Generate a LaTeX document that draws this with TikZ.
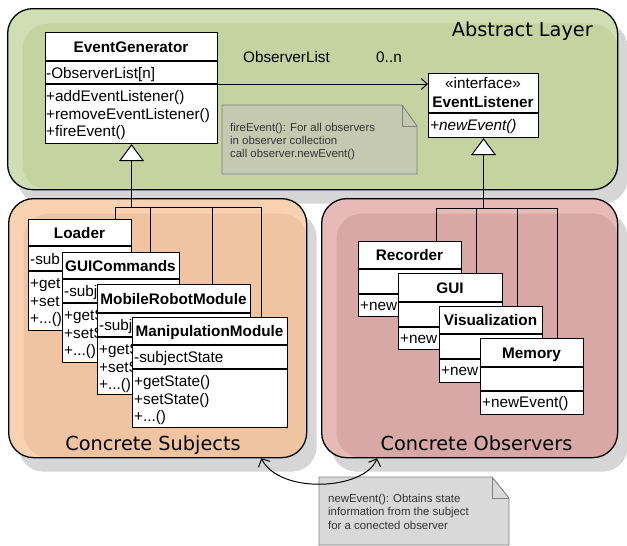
\documentclass[tikz,border=0pt]{standalone}
\usepackage{fontspec}
\setmainfont{Liberation Sans}
\newfontfamily\dejavu{DejaVu Sans}
\usetikzlibrary{arrows.meta,shadows}
\definecolor{absout}{RGB}{208,222,180}
\definecolor{absin}{RGB}{196,211,160}
\definecolor{subout}{RGB}{248,210,178}
\definecolor{subin}{RGB}{240,196,160}
\definecolor{obsout}{RGB}{230,186,183}
\definecolor{obsin}{RGB}{215,168,165}
\definecolor{shgray}{RGB}{214,214,214}
\definecolor{noteA}{RGB}{198,201,178}
\definecolor{noteB}{RGB}{217,217,217}
\definecolor{noteline}{RGB}{128,128,128}
\definecolor{notetext}{RGB}{51,51,51}
% class box: name, x, y, w, h, sep1 y, sep2 y, title
\newcommand\ucls[8]{%
  \node[classbox, minimum width=#4, minimum height=#5] (#1) at (#2,#3) {};
  \draw[sepline] (#2,#6) -- (#2+#4,#6);
  \draw[sepline] (#2,#7) -- (#2+#4,#7);
  \node[ctitle, anchor=base] (#1-t) at (#2+#4/2,#3/2+#6/2+5.5) {#8};
}
\newcommand\umem[4]{\node[ctext] (#1) at (#2,#3) {#4};}
\newcommand\unote[4]{\node[ntext] (#1) at (#2,#3) {#4};}
\begin{document}
\begin{tikzpicture}[x=1pt,y=-1pt,
  layer/.style n args={2}{draw=black, line width=1.3pt, rounded corners=25pt,
    anchor=north west, inner sep=0, fill=#1,
    drop shadow={shadow xshift=10pt, shadow yshift=-14pt, fill=shgray, draw=none, opacity=1},
    path picture={\fill[#2, rounded corners=25pt]
      ([xshift=15pt,yshift=-15pt]path picture bounding box.north west)
      rectangle (path picture bounding box.south east);}},
  classbox/.style={draw=black, fill=white, line width=1.1pt, inner sep=0, anchor=north west},
  sepline/.style={black, line width=1.1pt},
  ctitle/.style={font=\bfseries\fontsize{15.3}{18}\selectfont, inner sep=0},
  ctext/.style={font=\fontsize{15.3}{18}\selectfont, inner sep=0, anchor=base west},
  lbl/.style={font=\dejavu\fontsize{19.3}{22}\selectfont, inner sep=0, anchor=base},
  ntext/.style={font=\fontsize{11.4}{13.5}\selectfont, text=notetext, inner sep=0, anchor=base west},
  notebox/.style={draw=noteline, line width=0.9pt},
  conn/.style={black, line width=1pt},
  gen/.style={black, line width=1pt, -{Triangle[open, fill=white, length=17pt, width=25pt]}},
  assoc/.style={black, line width=1pt, -{Straight Barb[length=6pt, width=11pt]}},
  arcst/.style={black, line width=1pt, {Straight Barb[length=6pt, width=13pt]}-{Straight Barb[length=6pt, width=13pt]}}
]
\useasboundingbox (0,0) rectangle (627,546);
\fill[white] (0,0) rectangle (627,546);

% ---------- layers ----------
\node[layer={absout}{absin}, minimum width=610, minimum height=181] (abs) at (7,8) {};
\node[layer={subout}{subin}, minimum width=298, minimum height=259] (subj) at (8,198) {};
\node[layer={obsout}{obsin}, minimum width=296, minimum height=259] (obs) at (321,198) {};
\node[lbl, anchor=base east] (absl) at (593,36.7) {Abstract Layer};
\node[lbl] (subl) at (153,450.5) {Concrete Subjects};
\node[lbl] (obsl) at (476.5,450.5) {Concrete Observers};

% ---------- abstract layer ----------
\ucls{eg}{45}{32}{172}{111}{61}{84}{EventGenerator}
\umem{eg-a}{46}{78}{-ObserverList[n]}
\umem{eg-m1}{46}{101.5}{+addEventListener()}
\umem{eg-m2}{46}{119}{+removeEventListener()}
\umem{eg-m3}{46}{136.5}{+fireEvent()}

\node[classbox, minimum width=110, minimum height=64] (el) at (428,73) {};
\draw[sepline] (428,113) -- (538,113);
\node[ctext, anchor=base] (el-s) at (483,88.5) {«interface»};
\node[ctitle, anchor=base] (el-t) at (483,107) {EventListener};
\node[ctext, font=\itshape\fontsize{15.3}{18}\selectfont] (el-m) at (430,130.5) {+newEvent()};

\node[inner sep=0, font=\fontsize{15.3}{18}\selectfont, anchor=base] (ol) at (286.5,62.5) {ObserverList};
\node[inner sep=0, font=\fontsize{15.3}{18}\selectfont, anchor=base] (mult) at (389,62.5) {0..n};
\draw[assoc] ([yshift=-52pt]eg.north east) -- ([yshift=-52pt]eg.north east -| el.west);

\filldraw[notebox, fill=noteA] (222,105) -- (402,105) -- (417,126) -- (417,174) -- (222,174) -- cycle;
\draw[notebox] (402,105) -- (402,126) -- (417,126);
\unote{n1a}{230}{131.5}{fireEvent(): For all observers}
\unote{n1b}{230}{144.5}{in observer collection}
\unote{n1c}{230}{157.5}{call observer.newEvent()}

% ---------- concrete subjects ----------
\ucls{lo}{28}{219}{103}{111}{246}{271}{Loader}
\umem{lo-a}{30}{264}{-sub}
\umem{lo-m1}{30}{288.5}{+get}
\umem{lo-m2}{30}{306}{+set}
\umem{lo-m3}{30}{323.5}{+...()}
\ucls{gc}{62}{252}{117}{110}{279}{303}{GUICommands}
\umem{gc-a}{64}{296.5}{-subj}
\umem{gc-m1}{64}{320.5}{+getS}
\umem{gc-m2}{64}{338}{+setS}
\umem{gc-m3}{64}{355.5}{+...()}
\ucls{mr}{97}{284}{153}{110}{313}{337}{MobileRobotModule}
\umem{mr-a}{99}{330.5}{-subj}
\umem{mr-m1}{99}{354.5}{+getS}
\umem{mr-m2}{99}{372}{+setS}
\umem{mr-m3}{99}{389.5}{+...()}
\ucls{mm}{132}{317}{155}{110}{345}{369}{ManipulationModule}
\umem{mm-a}{134}{362.5}{-subjectState}
\umem{mm-m1}{134}{386.5}{+getState()}
\umem{mm-m2}{134}{404}{+setState()}
\umem{mm-m3}{134}{421.5}{+...()}

\coordinate (sb1) at (115,207);
\coordinate (sb2) at (150,207);
\coordinate (sb3) at (212,207);
\coordinate (sb4) at (261,207);
\draw[conn] (sb1) -- (sb4);
\draw[conn] (sb1) -- (sb1 |- lo.north);
\draw[conn] (sb2) -- (sb2 |- gc.north);
\draw[conn] (sb3) -- (sb3 |- mr.north);
\draw[conn] (sb4) -- (sb4 |- mm.north);
\draw[gen] (eg.south |- sb1) -- (eg.south);

% ---------- concrete observers ----------
\ucls{re}{358}{241}{103}{75}{269}{294}{Recorder}
\umem{re-m}{360}{310.5}{+new}
\ucls{gu}{398}{273}{104}{76}{302}{327}{GUI}
\umem{gu-m}{400}{343.5}{+new}
\ucls{vi}{439}{306}{103}{76}{334}{359}{Visualization}
\umem{vi-m}{441}{375.5}{+new}
\ucls{me}{480}{338}{103}{76}{367}{391}{Memory}
\umem{me-m}{482}{407.5}{+newEvent()}

\coordinate (ob1) at (436,208);
\coordinate (ob2) at (476,208);
\coordinate (ob3) at (517,208);
\coordinate (ob4) at (557,208);
\draw[conn] (ob1) -- (ob4);
\draw[conn] (ob1) -- (ob1 |- re.north);
\draw[conn] (ob2) -- (ob2 |- gu.north);
\draw[conn] (ob3) -- (ob3 |- vi.north);
\draw[conn] (ob4) -- (ob4 |- me.north);
\draw[gen] (el.south |- ob1) -- (el.south);

% ---------- bottom note ----------
\filldraw[notebox, fill=noteB] (319,477) -- (492,477) -- (509,498) -- (509,545) -- (319,545) -- cycle;
\draw[notebox] (492,477) -- (492,498) -- (509,498);
\unote{n2a}{328}{502}{newEvent(): Obtains state}
\unote{n2b}{328}{515.5}{information from the subject}
\unote{n2c}{328}{529}{for a conected observer}
\draw[arcst] ([xshift=-46pt]subj.south east) .. controls (280,495) and (365,490) .. ([xshift=56pt]obs.south west);
\end{tikzpicture}
\end{document}
